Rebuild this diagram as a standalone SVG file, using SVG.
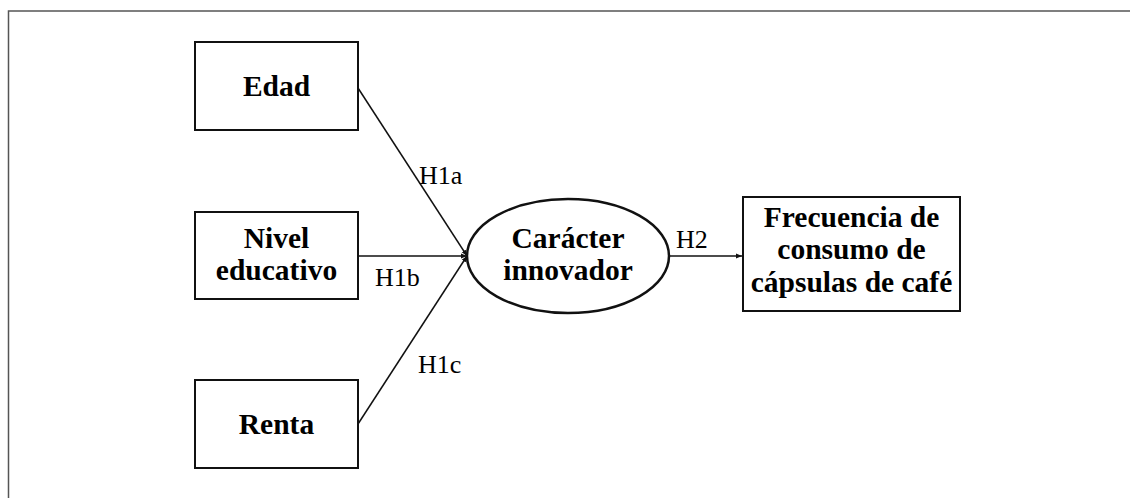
<svg xmlns="http://www.w3.org/2000/svg" width="1130" height="498" viewBox="0 0 1130 498">
<defs>
<style>
.box{fill:#fff;stroke:#111;stroke-width:2}
.t{font-family:"Liberation Serif",serif;font-weight:bold;font-size:29.5px;fill:#000;text-anchor:middle}
.lab{font-family:"Liberation Serif",serif;font-size:26px;fill:#000}
.ln{stroke:#111;stroke-width:1.5;fill:none}
</style>
<marker id="ah" viewBox="0 0 10 10" refX="10" refY="5" markerWidth="6" markerHeight="6" orient="auto" markerUnits="userSpaceOnUse">
<path d="M0,1 L10,5 L0,9 Z" fill="#111"/>
</marker>
</defs>
<rect width="1130" height="498" fill="#fff"/>
<path d="M8.5,498 L8.5,11 L1130,11" fill="none" stroke="#555" stroke-width="1.5"/>
<g id="connectors">
<line class="ln" x1="358" y1="88" x2="467" y2="256" marker-end="url(#ah)"/>
<line class="ln" x1="358" y1="256" x2="467" y2="256" marker-end="url(#ah)"/>
<line class="ln" x1="358" y1="424" x2="467" y2="256" marker-end="url(#ah)"/>
<line class="ln" x1="669" y1="256" x2="742" y2="256" marker-end="url(#ah)"/>
<text class="lab" x="419" y="184">H1a</text>
<text class="lab" x="375" y="286">H1b</text>
<text class="lab" x="418" y="373">H1c</text>
<text class="lab" x="676" y="248">H2</text>
</g>
<g id="edad">
<rect class="box" x="195" y="42" width="163" height="88"/>
<text class="t" x="276.5" y="96">Edad</text>
</g>
<g id="nivel">
<rect class="box" x="195" y="212" width="163" height="87"/>
<text class="t" x="276.5" y="248">Nivel</text>
<text class="t" x="276.5" y="280">educativo</text>
</g>
<g id="renta">
<rect class="box" x="195" y="380" width="163" height="88"/>
<text class="t" x="276.5" y="434">Renta</text>
</g>
<g id="caracter">
<ellipse cx="568" cy="256" rx="101" ry="57" fill="#fff" stroke="#111" stroke-width="2.5"/>
<text class="t" x="568" y="248">Carácter</text>
<text class="t" x="568" y="280">innovador</text>
</g>
<g id="frecuencia">
<rect class="box" x="743" y="197" width="217" height="114"/>
<text class="t" x="851.5" y="227">Frecuencia de</text>
<text class="t" x="851.5" y="259">consumo de</text>
<text class="t" x="851.5" y="292">cápsulas de café</text>
</g>
</svg>
